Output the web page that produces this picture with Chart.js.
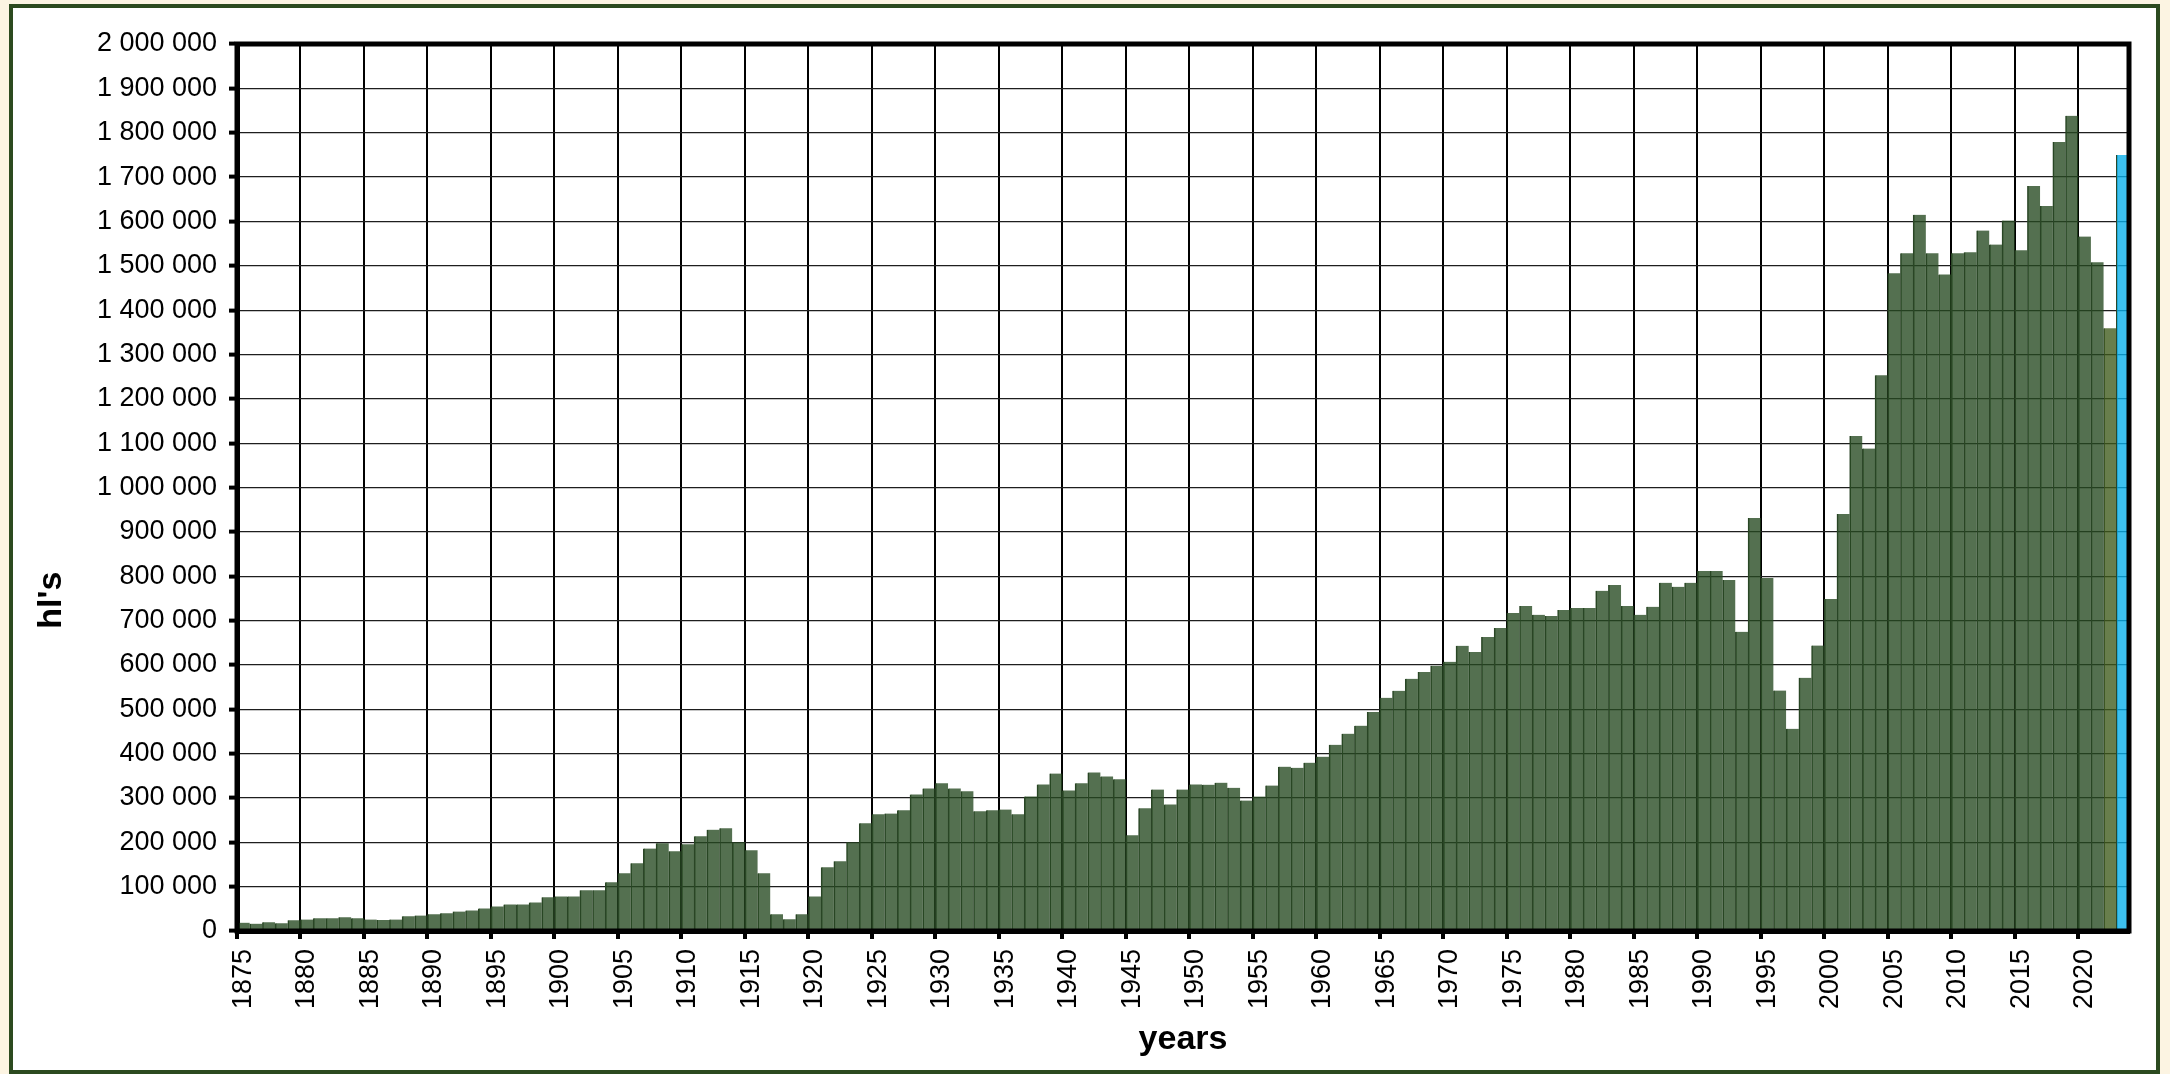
<!DOCTYPE html>
<html>
<head>
<meta charset="utf-8">
<title>hl's per year</title>
<script src="https://cdn.jsdelivr.net/npm/chart.js@4/dist/chart.umd.min.js"></script>
<style>
    html, body {
        margin: 0;
        padding: 0;
        width: 2170px;
        height: 1074px;
        background: #fcf4e2;
        overflow: hidden;
    }
    .chart-frame {
        position: absolute;
        left: 9px;
        top: 4px;
        width: 2151px;
        height: 1070px;
        box-sizing: border-box;
        border: 4px solid #2c4a1f;
        background: #ffffff;
    }
    .chart-box {
        position: relative;
        width: 2143px;
        height: 1062px;
    }
</style>
</head>
<body>
<div class="chart-frame">
    <div class="chart-box">
        <canvas id="volume-chart"></canvas>
    </div>
</div>

<script>
const firstYear = 1875;
const lastYear = 2023;

// hl's per year, 1875 ... 2023
const volumes = [
    18800, 16500, 19500, 17300, 24000, 26000, 28500, 28500, 31000, 28500,
    26000, 25000, 26000, 33000, 35000, 37500, 40000, 44000, 46500, 51000,
    55500, 60000, 60000, 64500, 76000, 78000, 78000, 92000, 92000, 110000,
    130000, 152500, 186000, 198000, 180000, 195500, 213500, 228500, 231500, 200000,
    182000, 130000, 37500, 26500, 37500, 78000, 143500, 157000, 200000, 243000,
    263000, 265000, 272000, 308000, 321500, 333000, 321500, 315000, 270000, 272000,
    274000, 263000, 303500, 330500, 355000, 317000, 333000, 357500, 348500, 342000,
    216000, 276500, 319000, 285500, 319000, 330500, 330000, 334500, 323000, 294000,
    303000, 328000, 370500, 368000, 379500, 393000, 420000, 445000, 463000, 494000,
    526000, 541500, 568500, 584000, 598000, 607000, 643000, 629000, 663000, 683000,
    717000, 733000, 713000, 710500, 724000, 728500, 728500, 767000, 780000, 733000,
    713000, 731000, 785000, 776000, 785000, 812000, 812000, 791500, 674500, 931000,
    796000, 542000, 456000, 571000, 643500, 748500, 940500, 1116000, 1088000, 1253000,
    1483000, 1528000, 1615000, 1528000, 1480500, 1528000, 1530500, 1579500, 1548000, 1602000,
    1535000, 1680000, 1635000, 1779000, 1838000, 1566000, 1508000, 1359000, 1750000
];

const yMin = 0;
const yMax = 2000000;
const yStep = 100000;
const labelEvery = 5;

const yTitle = "hl's";
const xTitle = "years";

document.addEventListener("DOMContentLoaded", function(){
    drawChart();
});

function formatNumber(value){
    return String(value).replace(/\B(?=(\d{3})+(?!\d))/g, " ");
}

function barColor(index){
    const year = firstYear + index;
    if(year === lastYear){
        return "rgba(8, 175, 235, 0.79)";
    } else if(year === lastYear - 1){
        return "rgba(63, 91, 28, 0.79)";
    }
    return "rgba(38, 74, 33, 0.79)";
}

function drawChart(){

    const years = [];
    for(let y = firstYear; y <= lastYear; y += 1){
        years.push(String(y));
    }

    const tickFont = {family: "'Liberation Sans', Arial, sans-serif", size: 27};

    // thick black frame round the plot + the two axis titles
    const framePlugin = {
        id: "plotFrame",
        afterDraw(chart){
            const {ctx, chartArea} = chart;
            ctx.save();
            ctx.strokeStyle = "#000";
            ctx.lineWidth = 5;
            ctx.strokeRect(chartArea.left, chartArea.top, chartArea.right - chartArea.left, chartArea.bottom - chartArea.top);

            ctx.fillStyle = "#000";
            ctx.font = "bold 34px 'Liberation Sans', Arial, sans-serif";
            ctx.textAlign = "center";
            ctx.textBaseline = "middle";
            ctx.fillText(xTitle, (chartArea.left + chartArea.right) / 2, chart.height - 30);

            ctx.translate(39, chartArea.top + (chartArea.bottom - chartArea.top) * 0.627);
            ctx.rotate(-Math.PI / 2);
            ctx.fillText(yTitle, 0, 0);
            ctx.restore();
        }
    };

    const ctx = document.getElementById("volume-chart");

    new Chart(ctx, {
        type: "bar",
        data: {
            labels: years,
            datasets: [
                {
                    label: yTitle,
                    data: volumes,
                    backgroundColor: (c) => barColor(c.dataIndex),
                    borderColor: "#2b4527",
                    borderWidth: {left: 1, right: 0, top: 0, bottom: 0},
                    borderSkipped: false,
                    barPercentage: 1,
                    categoryPercentage: 1
                }
            ]
        },
        options: {
            responsive: true,
            maintainAspectRatio: false,
            animation: false,
            layout: {
                padding: {top: 36, right: 27, bottom: 0, left: 0}
            },
            plugins: {
                legend: {display: false},
                tooltip: {enabled: false}
            },
            scales: {
                x: {
                    offset: true,
                    afterFit(scale){
                        scale.height = 139;
                        // the last tick has no label, so no room is needed on the right
                        scale.paddingLeft = 0;
                        scale.paddingRight = 0;
                    },
                    grid: {
                        offset: true,
                        color: (c) => (c.index % labelEvery === 0 ? "#000" : "rgba(0,0,0,0)"),
                        lineWidth: 2,
                        tickColor: (c) => (c.index % labelEvery === 0 ? "#000" : "rgba(0,0,0,0)"),
                        tickLength: 8,
                        tickWidth: 4
                    },
                    border: {display: true, color: "#000", width: 5},
                    ticks: {
                        autoSkip: false,
                        minRotation: 90,
                        maxRotation: 90,
                        padding: 10,
                        color: "#000",
                        font: tickFont,
                        // empty string keeps the tick (and its grid line slot)
                        callback: function(value, index){
                            return index % labelEvery === 0 ? years[index] : "";
                        }
                    }
                },
                y: {
                    min: yMin,
                    max: yMax,
                    afterFit(scale){ scale.width = 224; },
                    grid: {
                        color: "#1e1e1e",
                        lineWidth: 1.2,
                        tickColor: "#000",
                        tickLength: 8,
                        tickWidth: 4
                    },
                    border: {display: true, color: "#000", width: 5},
                    ticks: {
                        stepSize: yStep,
                        padding: 12,
                        color: "#000",
                        font: tickFont,
                        callback: (value) => formatNumber(value)
                    }
                }
            }
        },
        plugins: [framePlugin]
    });
}
</script>
</body>
</html>
